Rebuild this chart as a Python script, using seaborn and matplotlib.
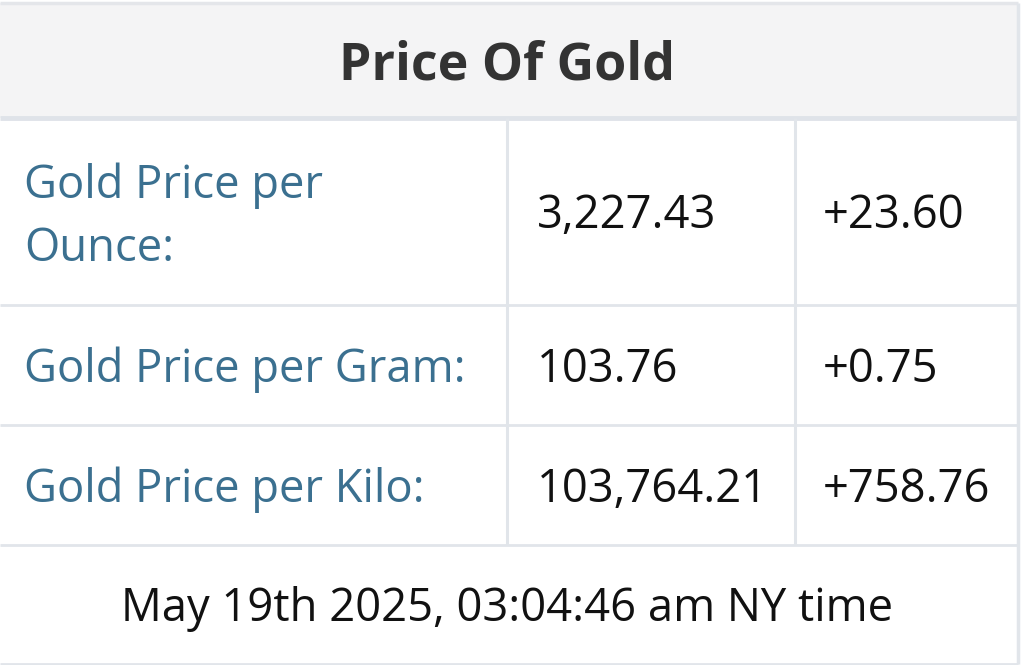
#!/usr/bin/env python3

import matplotlib.pyplot as plt
import seaborn as sns

title = "Price Of Gold"
labels = ["Gold Price per\nOunce:", "Gold Price per Gram:", "Gold Price per Kilo:"]
prices = ["3,227.43", "103.76", "103,764.21"]
changes = ["+23.60", "+0.75", "+758.76"]
footer = "May 19th 2025, 03:04:46 am NY time"

# layout in pixels
W, H = 1034, 665
left, right = 0, 1018
top, bottom = 3, 664
header_bottom = 118
row_lines = [305, 425, 545]
col_lines = [507, 795]
row_centers = [211, 364, 484]
label_centers = [203, 364, 484]

sns.set_theme(style="white")
plt.rcParams["font.family"] = ["Open Sans", "DejaVu Sans"]

fig = plt.figure(figsize=(W / 100, H / 100), dpi=100)
ax = fig.add_axes([0, 0, 1, 1])
ax.set_xlim(0, W)
ax.set_ylim(H, 0)
ax.axis("off")

line_col = "#e1e5ea"
ax.fill_between([left, right], top, header_bottom, color="#f4f4f5", lw=0)
ax.hlines([top], left, right, color="#e4e6ea", lw=2.5)
ax.hlines([header_bottom], left, right, color="#dfe3e9", lw=3.5)
ax.hlines(row_lines, left, right, color=line_col, lw=2)
ax.hlines([bottom], left, right, color=line_col, lw=2)
ax.vlines(col_lines, header_bottom, row_lines[-1], color=line_col, lw=2.2)
ax.vlines([right], top, bottom, color=line_col, lw=2.5)

fs = 32.7
ax.text(507, 60, title, ha="center", va="center_baseline", fontsize=37.4, fontweight="bold", color="#333333")
for lab, price, chg, y, ly in zip(labels, prices, changes, row_centers, label_centers):
    ax.text(24, ly, lab, ha="left", va="center_baseline", fontsize=fs, color="#3b7090", linespacing=1.5)
    ax.text(536.5, y, price, ha="left", va="center_baseline", fontsize=fs, color="#111111")
    ax.text(823, y, chg, ha="left", va="center_baseline", fontsize=fs, color="#111111")
ax.text(507, 604, footer, ha="center", va="center_baseline", fontsize=fs, color="#111111")

plt.savefig("out.png", dpi=100)
